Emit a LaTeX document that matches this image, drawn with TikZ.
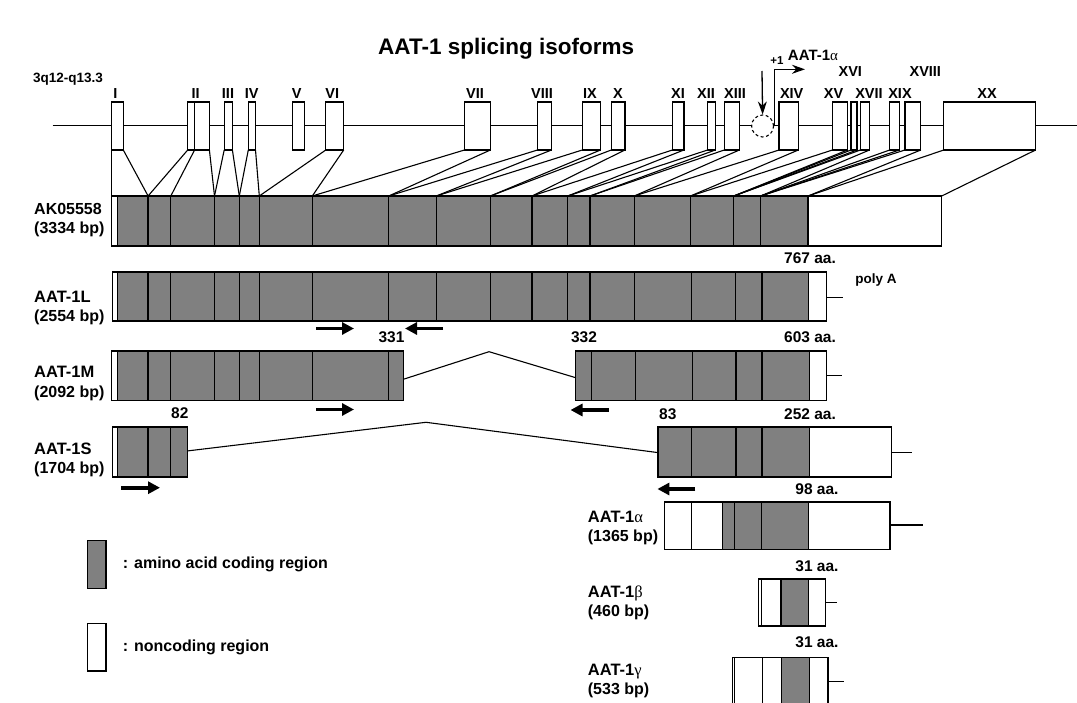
\documentclass[tikz,border=0pt]{standalone}
\usepackage{fontspec}
\setmainfont{Liberation Sans}
\newfontfamily\grk{Liberation Serif}
\usetikzlibrary{arrows.meta}
\definecolor{cds}{RGB}{128,128,128}
\newcommand\fsz[1]{\fontsize{#1}{#1}\selectfont}
\newcommand\galpha{{\grk\mdseries α}}
\newcommand\gbeta{{\grk\mdseries β}}
\newcommand\ggamma{{\grk\mdseries γ}}
\newcommand\exonbox[3]{\draw[box,fill=white] (#2,102) rectangle (#3,150);
  \coordinate (#1-l) at (#2,150); \coordinate (#1-r) at (#3,150);}
\tikzset{
  box/.style={draw=black, line width=1.3pt},
  conn/.style={line width=1.1pt},
  gline/.style={line width=1.4pt},
  exlbl/.style={font=\bfseries\fsz{14.5}, inner sep=0},
  rowlbl/.style={font=\bfseries\fsz{16}, inner sep=0, anchor=west},
  namelbl/.style={font=\bfseries\fsz{16.5}, inner sep=0, anchor=west},
  numlbl/.style={font=\bfseries\fsz{15.5}, inner sep=0},
  primer/.style={line width=3.6pt, -{Triangle[length=12pt,width=12pt]}},
}
\begin{document}
\begin{tikzpicture}[x=1pt,y=-1pt]
\clip (0,0) rectangle (1077,703);
\fill[white] (0,0) rectangle (1077,703);
% title
\node[font=\bfseries\fsz{22.5}, inner sep=0, anchor=base west] (title) at (378,55) {AAT-1 splicing isoforms};
\node[font=\bfseries\fsz{13.5}, inner sep=0, anchor=base west] (chr) at (33,83) {3q12-q13.3};
% genomic line
\coordinate (g0) at (52.7,125.5);
\coordinate (g1) at (1077,125.5);
\draw[gline] (g0) -- (g1);
% exons
\exonbox{I}{111.2}{123.3}
\exonbox{IIa}{187.7}{194.6}
\exonbox{IIb}{194.6}{209.4}
\exonbox{III}{224.2}{232.4}
\exonbox{IV}{248.3}{255.5}
\exonbox{V}{292.7}{304.8}
\exonbox{VI}{325.8}{343.7}
\exonbox{VII}{464.5}{490.4}
\exonbox{VIII}{537.5}{551.5}
\exonbox{IX}{582.3}{600.5}
\exonbox{X}{611.3}{624.9}
\exonbox{XI}{672.4}{683.9}
\exonbox{XII}{707.6}{715.3}
\exonbox{XIII}{724.3}{739.4}
\exonbox{XIV}{779.1}{798.3}
\exonbox{XV}{832.5}{847.5}
\exonbox{XVI}{851}{857}
\exonbox{XVII}{860.4}{869.5}
\exonbox{XVIII}{889.7}{899.5}
\exonbox{XIX}{905}{920.8}
\exonbox{XX}{943.8}{1035.6}
% exon labels
\node[exlbl] (lI) at (115.4,94) {I};
\node[exlbl] (lII) at (195.6,94) {II};
\node[exlbl] (lIII) at (228,94) {III};
\node[exlbl] (lIV) at (251.7,94) {IV};
\node[exlbl] (lV) at (296.8,94) {V};
\node[exlbl] (lVI) at (332.3,94) {VI};
\node[exlbl] (lVII) at (475,94) {VII};
\node[exlbl] (lVIII) at (542,94) {VIII};
\node[exlbl] (lIX) at (590,94) {IX};
\node[exlbl] (lX) at (618,94) {X};
\node[exlbl] (lXI) at (678,94) {XI};
\node[exlbl] (lXII) at (706,94) {XII};
\node[exlbl] (lXIII) at (735,94) {XIII};
\node[exlbl] (lXIV) at (791.7,94) {XIV};
\node[exlbl] (lXV) at (833.6,94) {XV};
\node[exlbl] (lXVI) at (850.3,72) {XVI};
\node[exlbl] (lXVII) at (869,94) {XVII};
\node[exlbl] (lXVIII) at (925.3,72) {XVIII};
\node[exlbl] (lXIX) at (900,94) {XIX};
\node[exlbl] (lXX) at (987,94) {XX};
% promoter region
\node[draw, dashed, dash pattern=on 3pt off 2.5pt, circle, fill=white, minimum size=22pt, inner sep=0, line width=1.1pt] (circ) at (762.6,126) {};
\coordinate (dnA) at (762,71);
\draw[line width=1.3pt, -{Stealth[length=13pt,width=9pt]}] (dnA) -- (circ.north);
\coordinate (tss) at (774.2,125.5);
\coordinate (tssR) at (805,69.3);
\draw[line width=1.3pt, -{Stealth[length=13pt,width=9pt]}] (tss) |- (tssR);
\node[font=\bfseries\fsz{11.5}, inner sep=0] (plus1) at (777,61) {+1};
\node[font=\bfseries\fsz{15}, inner sep=0] (tssl) at (813,55) {AAT-1\galpha};
% AK05558 boundaries
\foreach \x [count=\i] in {111.2,148.1,170.8,214.5,239.3,259.3,312.3,388.8,436.3,490.4,532,567.7,590,634.3,690.5,733.8,760.6,808.1,941.7}
  \coordinate (ak\i) at (\x,196);
% connectors
\foreach \e/\k in {I-l/ak1, I-r/ak2, IIa-l/ak2, IIa-r/ak3, IIb-r/ak4, III-l/ak4, III-r/ak5, IV-l/ak5, IV-r/ak6, VI-l/ak6, VI-r/ak7, VII-l/ak7, VII-r/ak8, VIII-l/ak8, VIII-r/ak9, IX-l/ak9, IX-r/ak10, X-l/ak10, X-r/ak11, XI-l/ak11, XI-r/ak12, XII-l/ak12, XII-r/ak13, XIII-l/ak13, XIII-r/ak14, XIV-l/ak14, XIV-r/ak15, XV-l/ak15, XV-r/ak16, XVI-l/ak16, XVI-r/ak16, XVII-l/ak16, XVII-r/ak17, XVIII-l/ak17, XVIII-r/ak17, XIX-l/ak17, XIX-r/ak18, XX-l/ak18, XX-r/ak19}
  \draw[conn] (\e) -- (\k);
% AK05558 row
\draw[box,fill=white] (111.2,196) rectangle (117.8,246);
\draw[box,fill=cds] (117.8,196) rectangle (808.1,246);
\foreach \x in {148.1,170.8,214.5,239.3,259.3,312.3,388.8,436.3,490.4,532,567.7,590,634.3,690.5,733.8,760.6}
  \draw[box] (\x,196) -- (\x,246);
\draw[box,fill=white] (808.1,196) rectangle (941.7,246);
\node[rowlbl] (nAK) at (34,209) {AK05558};
\node[rowlbl] (bAK) at (34,229.5) {(3334 bp)};
% AAT-1L row
\draw[box,fill=white] (112.6,272) rectangle (117.4,321);
\draw[box,fill=cds] (117.4,272) rectangle (808.8,321);
\foreach \x in {148.1,170.8,214.5,239.3,259.3,312.3,388.8,436.3,490.4,532,567.7,590,634.3,691.5,735.5,762}
  \draw[box] (\x,272) -- (\x,321);
\draw[box,fill=white] (808.8,272) rectangle (826.2,321);
\coordinate (Lt0) at (826.2,297.5); \coordinate (Lt1) at (843,297.5);
\draw[conn] (Lt0) -- (Lt1);
\node[namelbl] (nL) at (34,296.5) {AAT-1L};
\node[rowlbl] (bL) at (34,317) {(2554 bp)};
\node[numlbl] (aL) at (810,258) {767 aa.};
\node[font=\bfseries\fsz{13.5}, inner sep=0] (polyA) at (876,280) {poly A};
\coordinate (pL1a) at (316,328.5); \coordinate (pL1b) at (354,328.5);
\draw[primer] (pL1a) -- (pL1b);
\coordinate (pL2a) at (443,328.5); \coordinate (pL2b) at (405,328.5);
\draw[primer] (pL2a) -- (pL2b);
% AAT-1M row
\draw[box,fill=white] (111.6,351) rectangle (117.8,400.5);
\draw[box,fill=cds] (117.8,351) rectangle (403.6,400.5);
\foreach \x in {148.1,170.8,214.5,239.3,259.3,312.3,388.8}
  \draw[box] (\x,351) -- (\x,400.5);
\draw[box,fill=cds] (575.4,351) rectangle (809.5,400.5);
\foreach \x in {591.4,635.4,692.6,735.9,762}
  \draw[box] (\x,351) -- (\x,400.5);
\draw[box,fill=white] (809.5,351) rectangle (826.2,400.5);
\coordinate (Mi0) at (403.6,379.2); \coordinate (Mi1) at (489,351.7); \coordinate (Mi2) at (575.4,377.6);
\draw[conn] (Mi0) -- (Mi1) -- (Mi2);
\coordinate (Mt0) at (826.2,375.8); \coordinate (Mt1) at (841.6,375.8);
\draw[conn] (Mt0) -- (Mt1);
\node[namelbl] (nM) at (34,372) {AAT-1M};
\node[rowlbl] (bM) at (34,393) {(2092 bp)};
\node[numlbl] (n331) at (391.5,337) {331};
\node[numlbl] (n332) at (584,337) {332};
\node[numlbl] (aM) at (810,337) {603 aa.};
\coordinate (pM1a) at (316,409.5); \coordinate (pM1b) at (354,409.5);
\draw[primer] (pM1a) -- (pM1b);
\coordinate (pM2a) at (608.5,410); \coordinate (pM2b) at (570.5,410);
\draw[primer] (pM2a) -- (pM2b);
% AAT-1S row
\draw[box,fill=white] (112.6,427) rectangle (117.4,477);
\draw[box,fill=cds] (117.4,427) rectangle (187.7,477);
\foreach \x in {148.1,170.8}
  \draw[box] (\x,427) -- (\x,477);
\draw[box,fill=cds] (658,427) rectangle (809.5,477);
\foreach \x in {691.5,735.9,762}
  \draw[box] (\x,427) -- (\x,477);
\draw[box,fill=white] (809.5,427) rectangle (891.8,477);
\coordinate (Si0) at (187.7,450.9); \coordinate (Si1) at (426,422.3); \coordinate (Si2) at (658,452.6);
\draw[conn] (Si0) -- (Si1) -- (Si2);
\coordinate (St0) at (891.8,452.6); \coordinate (St1) at (912,452.6);
\draw[conn] (St0) -- (St1);
\node[namelbl] (nS) at (34,448.5) {AAT-1S};
\node[rowlbl] (bS) at (34,469) {(1704 bp)};
\node[numlbl] (n82) at (179.8,413.5) {82};
\node[numlbl] (n83) at (667.8,414) {83};
\node[numlbl] (aS) at (810,414) {252 aa.};
\coordinate (pS1a) at (121,487.7); \coordinate (pS1b) at (160,487.7);
\draw[primer] (pS1a) -- (pS1b);
\coordinate (pS2a) at (695.4,489); \coordinate (pS2b) at (657.4,489);
\draw[primer] (pS2a) -- (pS2b);
% AAT-1 alpha
\draw[box,fill=white] (664.3,502) rectangle (722.7,549.3);
\draw[box] (691.7,502) -- (691.7,549.3);
\draw[box,fill=cds] (722.7,502) rectangle (808.3,549.3);
\foreach \x in {734.3,761.3}
  \draw[box] (\x,502) -- (\x,549.3);
\draw[box,fill=white] (808.3,502) rectangle (890,549.3);
\coordinate (at0) at (890,525); \coordinate (at1) at (923.3,525);
\draw[conn] (at0) -- (at1);
\node[namelbl] (na) at (587.7,517) {AAT-1\galpha};
\node[rowlbl] (ba) at (587.7,537) {(1365 bp)};
\node[numlbl] (aa) at (817,489) {98 aa.};
% AAT-1 beta
\draw[box,fill=white] (758.3,579) rectangle (781,626);
\draw[box] (761.7,579) -- (761.7,626);
\draw[box,fill=cds] (781,579) rectangle (808.3,626);
\draw[box,fill=white] (808.3,579) rectangle (825.7,626);
\coordinate (bt0) at (825.7,602.3); \coordinate (bt1) at (836.7,602.3);
\draw[conn] (bt0) -- (bt1);
\node[namelbl] (nb) at (587.7,593.5) {AAT-1\gbeta};
\node[rowlbl] (bb) at (587.7,612.5) {(460 bp)};
\node[numlbl] (ab) at (817,566) {31 aa.};
% AAT-1 gamma
\draw[box,fill=white] (732.3,657.3) rectangle (781.7,715);
\draw[box] (734.3,657.3) -- (734.3,715);
\draw[box] (762.7,657.3) -- (762.7,715);
\draw[box,fill=cds] (781.7,657.3) rectangle (809.3,715);
\draw[box,fill=white] (809.3,657.3) rectangle (828,715);
\coordinate (ct0) at (828,681.7); \coordinate (ct1) at (844,681.7);
\draw[conn] (ct0) -- (ct1);
\node[namelbl] (nc) at (587.7,671.5) {AAT-1\ggamma};
\node[rowlbl] (bc) at (587.7,690.5) {(533 bp)};
\node[numlbl] (ac) at (817,642) {31 aa.};
% legend
\draw[box,fill=cds] (87.7,540.7) rectangle (106,588.3);
\node[rowlbl] (leg1) at (122.7,564) {: amino acid coding region};
\draw[box,fill=white] (87.7,623.3) rectangle (106,671);
\node[rowlbl] (leg2) at (122.7,647.3) {: noncoding region};
\end{tikzpicture}
\end{document}
